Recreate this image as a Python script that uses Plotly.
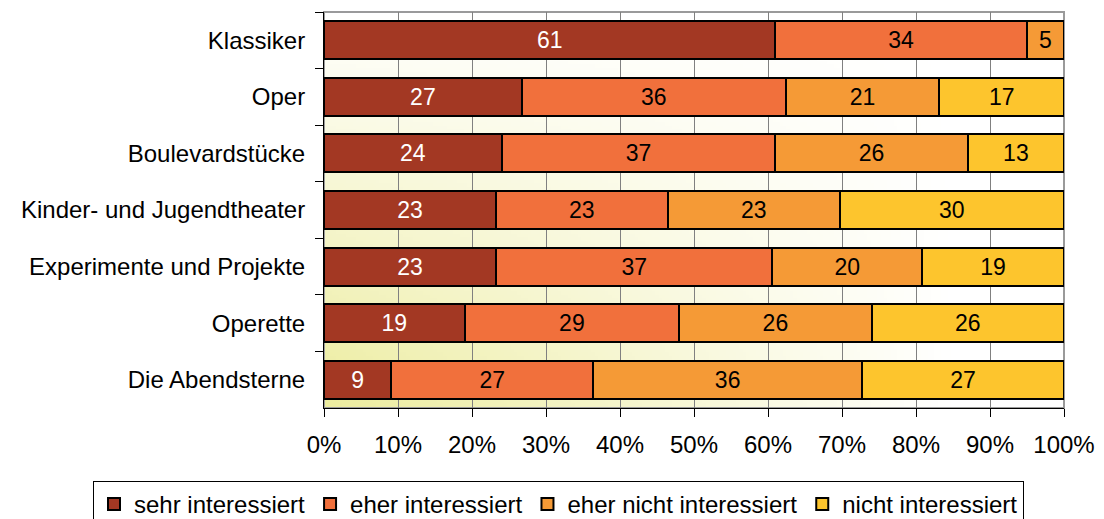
import base64
import struct
import zlib

import plotly.graph_objects as go

# ---------------- data ----------------
categories = [
    "Klassiker",
    "Oper",
    "Boulevardstücke",
    "Kinder- und Jugendtheater",
    "Experimente und Projekte",
    "Operette",
    "Die Abendsterne",
]
sehr_interessiert = [61, 27, 24, 23, 23, 19, 9]
eher_interessiert = [34, 36, 37, 23, 37, 29, 27]
eher_nicht_interessiert = [5, 21, 26, 23, 20, 26, 36]
nicht_interessiert = [0, 17, 13, 30, 19, 26, 27]

series_names = ["sehr interessiert", "eher interessiert",
                "eher nicht interessiert", "nicht interessiert"]
series_values = [sehr_interessiert, eher_interessiert,
                 eher_nicht_interessiert, nicht_interessiert]
series_colors = ["#A33823", "#F1703C", "#F59A36", "#FDC52D"]
text_colors = ["white", "black", "black", "black"]

x_ticks = list(range(0, 101, 10))
x_tick_labels = [f"{t}%" for t in x_ticks]

FONT = "Liberation Sans, Arial, Helvetica, sans-serif"


# ------------- background gradient image (pure python PNG) -------------
def gradient_png(w=220, h=110, yellow=(236, 236, 158)):
    rows = []
    for j in range(h):
        v = j / (h - 1)  # 0 top, 1 bottom
        row = bytearray([0])
        for i in range(w):
            u = i / (w - 1)
            f = max(0.0, min(1.0, v)) * max(0.0, min(1.0, 1 - u / 0.85))
            for c in yellow:
                row.append(int(round(255 - f * (255 - c))))
        rows.append(bytes(row))
    raw = b"".join(rows)

    def chunk(tag, data):
        return (struct.pack(">I", len(data)) + tag + data
                + struct.pack(">I", zlib.crc32(tag + data) & 0xFFFFFFFF))

    png = b"\x89PNG\r\n\x1a\n"
    png += chunk(b"IHDR", struct.pack(">IIBBBBB", w, h, 8, 2, 0, 0, 0))
    png += chunk(b"IDAT", zlib.compress(raw, 9))
    png += chunk(b"IEND", b"")
    return "data:image/png;base64," + base64.b64encode(png).decode()


fig = go.Figure()
for name, vals, col, tcol in zip(series_names, series_values,
                                 series_colors, text_colors):
    fig.add_trace(go.Bar(
        name=name,
        y=categories,
        x=vals,
        orientation="h",
        marker=dict(color=col, line=dict(color="black", width=2)),
        text=[str(v) if v else "" for v in vals],
        texttemplate="%{text}",
        textposition="inside",
        insidetextanchor="middle",
        textangle=0,
        constraintext="none",
        textfont=dict(color=tcol, size=23, family=FONT),
        hoverinfo="name+x",
    ))

PLOT_L, PLOT_R, PLOT_T, PLOT_B = 324, 1064, 12, 408
PLOT_W = PLOT_R - PLOT_L
PLOT_H = PLOT_B - PLOT_T

fig.update_layout(
    width=1104,
    height=519,
    margin=dict(l=PLOT_L, r=1104 - PLOT_R, t=PLOT_T, b=519 - PLOT_B,
                autoexpand=False),
    barmode="stack",
    barnorm="percent",
    bargap=0.33,
    paper_bgcolor="white",
    plot_bgcolor="rgba(0,0,0,0)",
    font=dict(family=FONT, size=24, color="black"),
    showlegend=True,
    legend=dict(
        orientation="h",
        xref="paper", yref="paper",
        x=(93 - PLOT_L) / PLOT_W, xanchor="left",
        y=(PLOT_B - 481) / PLOT_H, yanchor="top",
        bordercolor="black", borderwidth=1,
        bgcolor="white",
        font=dict(size=24, family=FONT),
        traceorder="normal",
        itemwidth=30,
        tracegroupgap=0,
    ),
    images=[dict(
        source=gradient_png(),
        xref="paper", yref="paper",
        x=0, y=1, sizex=1, sizey=1,
        xanchor="left", yanchor="top",
        sizing="stretch", layer="below",
    )],
    shapes=[dict(
        type="rect", xref="paper", yref="paper",
        x0=0, x1=1, y0=0, y1=1,
        line=dict(color="#9a9a9a", width=2),
        layer="below",
    )],
)

fig.update_xaxes(
    range=[0, 100],
    tickvals=x_ticks,
    ticktext=x_tick_labels,
    ticks="outside", ticklen=8, tickcolor="black", tickwidth=1,
    showline=True, linecolor="black", linewidth=1,
    showgrid=True, gridcolor="#808080", gridwidth=1,
    zeroline=False,
    ticklabelstandoff=7,
    tickfont=dict(size=24, family=FONT),
    fixedrange=True,
)
fig.update_yaxes(
    categoryorder="array",
    categoryarray=categories,
    autorange="reversed",
    tickson="boundaries",
    ticks="outside", ticklen=8, tickcolor="black", tickwidth=1,
    showline=True, linecolor="black", linewidth=1,
    showgrid=False,
    zeroline=False,
    ticklabelstandoff=13,
    tickfont=dict(size=24, family=FONT),
    fixedrange=True,
)

fig.write_html("out.html")
